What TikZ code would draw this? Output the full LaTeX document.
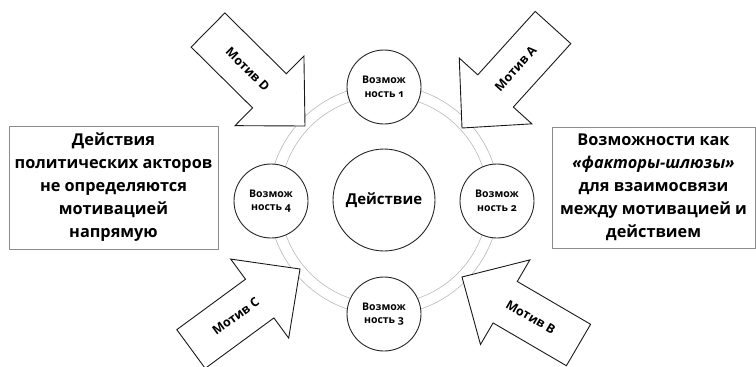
\documentclass[tikz,border=0pt]{standalone}
\usepackage{fontspec}
\setmainfont{Open Sans}[Numbers=OldStyle]
\usetikzlibrary{calc}
\newcommand{\motivarrow}[5]{% name, tail, tip, label, angle
  \coordinate (#1-tail) at (#2);
  \coordinate (#1-tip) at (#3);
  \coordinate (#1-base) at ($(#1-tip)!50pt!(#1-tail)$);
  \draw[motarrow] ($(#1-tail)!24pt!90:(#1-tip)$) -- ($(#1-base)!24pt!-90:(#1-tail)$)
     -- ($(#1-base)!49pt!-90:(#1-tail)$) -- (#1-tip) -- ($(#1-base)!49pt!90:(#1-tail)$)
     -- ($(#1-base)!24pt!90:(#1-tail)$) -- ($(#1-tail)!24pt!-90:(#1-tip)$) -- cycle;
  \node[motlabel, rotate=#5] (#1-label) at ($(#1-tail)!0.41!(#1-tip)$) {#4};
}
\begin{document}
\begin{tikzpicture}[x=1pt,y=-1pt,
  ring/.style={draw=black!28, line width=0.6pt},
  opp/.style={circle, draw=black!85, line width=0.9pt, fill=white, minimum size=74pt, inner sep=0pt, align=center, font=\fontsize{10.5}{13.5}\selectfont\bfseries},
  act/.style={circle, draw=black!85, line width=0.9pt, fill=white, minimum size=102pt, inner sep=0pt, font=\fontsize{15}{18}\selectfont\bfseries},
  infobox/.style={draw=black!45, line width=0.8pt, fill=white},
  boxtext/.style={align=center, font=\fontsize{16.3}{23}\selectfont\bfseries},
  motarrow/.style={draw=black!90, line width=0.9pt, fill=white, line join=miter},
  motlabel/.style={font=\fontsize{12.5}{15}\selectfont\bfseries, inner sep=0pt}
]
\useasboundingbox (0,0) rectangle (756,367);
\coordinate (ctr) at (384,200);
% ring
\draw[ring] (ctr) circle[radius=104];
\draw[ring] (ctr) circle[radius=115];
% boxes
\draw[infobox] (9,126) rectangle (218,249);
\node[boxtext] (lefttext) at (113.5,187.5) {Действия\\политических акторов\\не определяются\\мотивацией\\напрямую};
\draw[infobox] (552,127) rectangle (755,248);
\node[boxtext] (righttext) at (653.5,187.5) {Возможности как\\{\itshape «факторы-шлюзы»}\\для взаимосвязи\\между мотивацией и\\действием};
% arrows
\motivarrow{D}{208,30}{305,126}{Мотив D}{-44.7}
\motivarrow{A}{553,27.5}{462,128}{Мотив A}{47.8}
\motivarrow{C}{191,349}{300,269}{Мотив C}{36.3}
\motivarrow{B}{578.5,345}{462,277}{Мотив B}{-30.3}
% circles
\node[act] (act) at (ctr) {Действие};
\node[opp] (c1) at (384,87) {Возмож\\ность 1};
\node[opp] (c2) at (497,201) {Возмож\\ность 2};
\node[opp] (c3) at (384,314) {Возмож\\ность 3};
\node[opp] (c4) at (271,201) {Возмож\\ность 4};
\end{tikzpicture}
\end{document}
